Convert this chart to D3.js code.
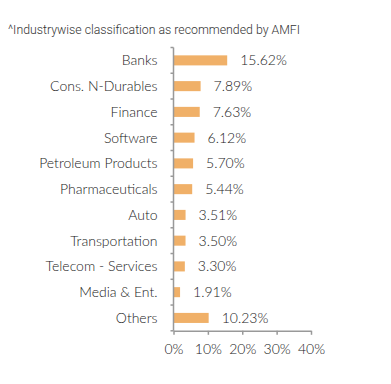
<!DOCTYPE html>
<html>
<head>
<meta charset="utf-8">
<script src="https://cdn.jsdelivr.net/npm/d3@7"></script>
<style>
html,body{margin:0;padding:0;background:#fff;}
svg{display:block;}
</style>
</head>
<body>
<svg id="chart" width="391" height="384"></svg>
<script>
const title = "^Industrywise classification as recommended by AMFI";
const categories = ["Banks","Cons. N-Durables","Finance","Software","Petroleum Products","Pharmaceuticals","Auto","Transportation","Telecom - Services","Media & Ent.","Others"];
const values = [15.62,7.89,7.63,6.12,5.70,5.44,3.51,3.50,3.30,1.91,10.23];
const xTicks = [0,10,20,30,40];

const svg = d3.select("#chart");
const margin = {left:173.5, top:47.5};
const FONT = "Lato, sans-serif";
const FS = 14;

const x = d3.scaleLinear().domain([0,40]).range([margin.left, 311]);
const y = d3.scaleBand().domain(categories).range([margin.top, 330.8]).paddingInner(0.61).paddingOuter(0.305);

svg.append("text")
  .attr("x", 8).attr("y", 34)
  .attr("font-family", "Roboto, sans-serif")
  .attr("font-size", 12.3).attr("font-weight", 300)
  .attr("fill", "#333")
  .text(title);

svg.selectAll("rect.bar").data(values).enter().append("rect")
  .attr("class","bar")
  .attr("x", x(0))
  .attr("y", (d,i)=>y(categories[i]))
  .attr("width", d=>x(d)-x(0))
  .attr("height", y.bandwidth())
  .attr("fill", "#F0B068");

svg.selectAll("text.val").data(values).enter().append("text")
  .attr("class","val")
  .attr("x", d=>x(d)+13)
  .attr("y", (d,i)=>y(categories[i])+y.bandwidth()/2+5)
  .attr("font-family",FONT).attr("font-size",FS).attr("font-weight",300)
  .attr("fill","#222")
  .text(d=>d.toFixed(2)+"%");

// y axis: line + ticks at band boundaries
const yAxisG = svg.append("g");
yAxisG.append("line")
  .attr("x1", x(0)).attr("x2", x(0))
  .attr("y1", y.range()[0]).attr("y2", y.range()[1])
  .attr("stroke","#999").attr("stroke-width",1.5);
const step = y.step();
const bounds = d3.range(categories.length+1).map(i=>y.range()[0]+i*step);
yAxisG.selectAll("line.tk").data(bounds).enter().append("line")
  .attr("x1", x(0)-3).attr("x2", x(0))
  .attr("y1", d=>d).attr("y2", d=>d)
  .attr("stroke","#999").attr("stroke-width",1.5);
yAxisG.selectAll("text.cat").data(categories).enter().append("text")
  .attr("x", 157.5)
  .attr("y", d=>y(d)+y.bandwidth()/2+5)
  .attr("text-anchor","end")
  .attr("font-family",FONT).attr("font-size",FS).attr("font-weight",300)
  .attr("fill","#222")
  .text(d=>d);

// x axis
const xAxis = d3.axisBottom(x).tickValues(xTicks).tickFormat(d=>d+"%").tickSizeInner(4).tickSizeOuter(0);
const xg = svg.append("g").attr("transform",`translate(0,${y.range()[1]})`).call(xAxis);
xg.select(".domain").attr("stroke","#999").attr("stroke-width",1.5);
xg.selectAll(".tick line").attr("stroke","#999").attr("stroke-width",1.5);
xg.selectAll(".tick text").attr("font-family",FONT).attr("font-size",FS).attr("font-weight",300).attr("fill","#222").attr("dy","1.15em");
</script>
</body>
</html>
